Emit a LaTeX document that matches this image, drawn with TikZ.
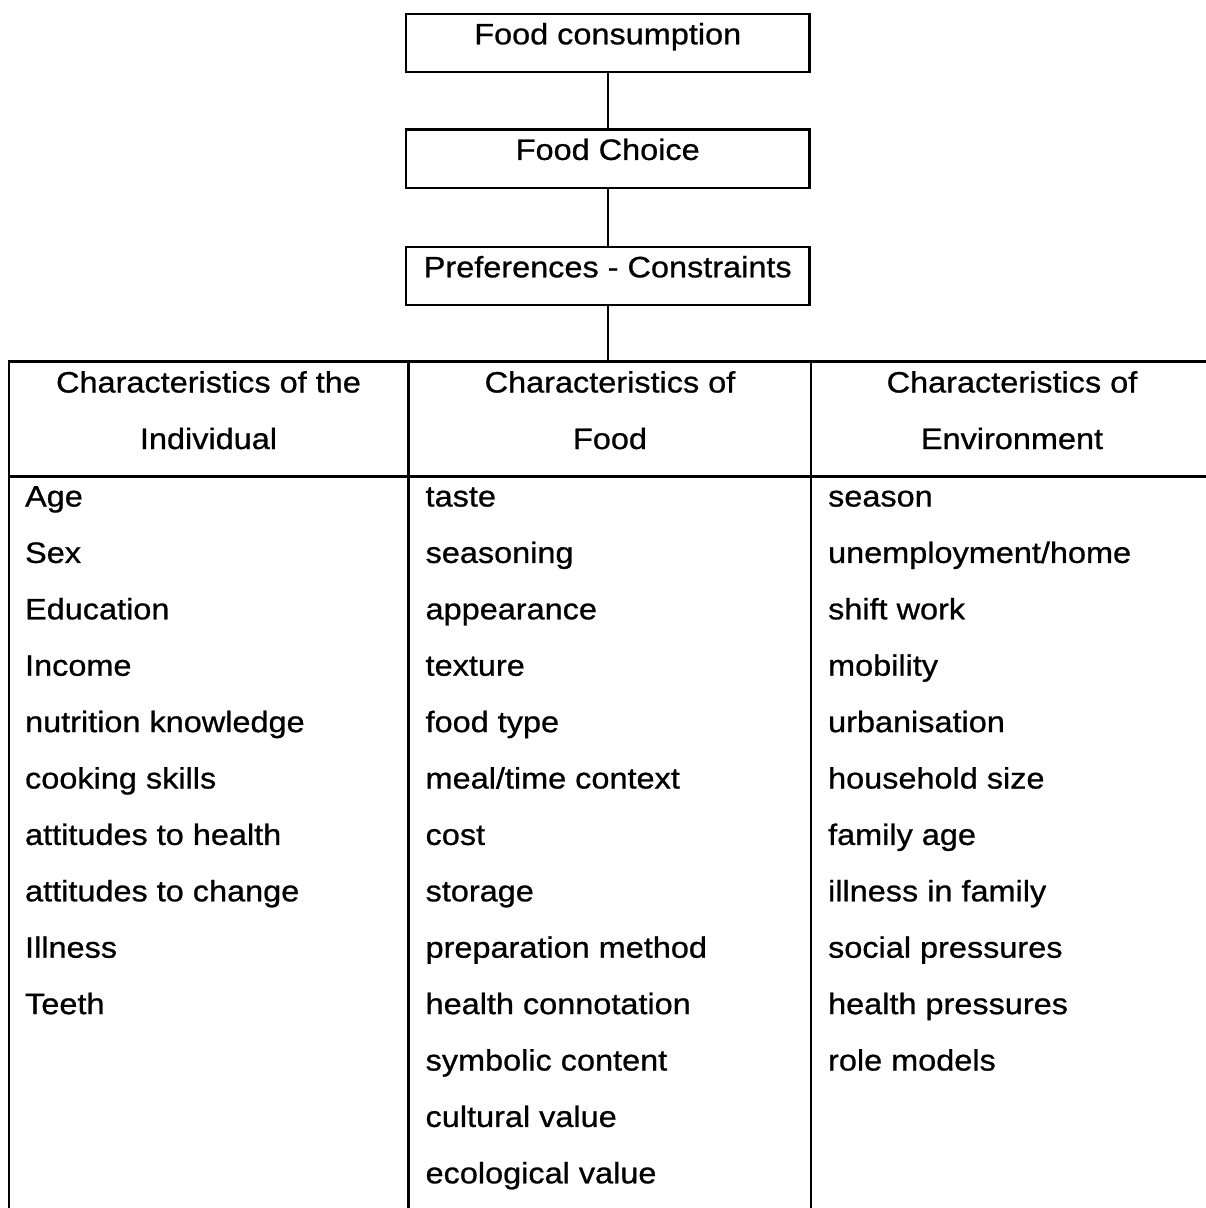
\documentclass[tikz,border=0pt]{standalone}
\usepackage{fontspec}
\setmainfont{Liberation Sans}[FakeStretch=1.1,FakeBold=0.8]
\begin{document}
\begin{tikzpicture}[x=1pt,y=-1pt,line width=2.2pt,
  txt/.style={font=\fontsize{29.5}{35}\selectfont, inner sep=0pt},
  topbox/.style={draw, txt, minimum width=403.5pt, text height=30.5pt, text depth=27.8pt},
  item/.style={txt, anchor=base west},
  head/.style={txt, anchor=base}]
\useasboundingbox (0,0) rectangle (1206,1208);
% top chain
\node[topbox, anchor=north] (b1) at (607.75,12.7) {Food consumption};
\node[topbox, anchor=north] (b2) at (607.75,128.3) {Food Choice};
\node[topbox, anchor=north] (b3) at (607.75,245.7) {Preferences - Constraints};
\coordinate (tt) at (607.75,361.5);
\draw (b1.south) -- (b2.north);
\draw (b2.south) -- (b3.north);
\draw (b3.south) -- (tt);
% table
\draw (9,1208) -- (9,361.5) -- (1206,361.5);
\draw (9,476.5) -- (1206,476.5);
\draw (408.5,361.5) -- (408.5,1208);
\draw (811,361.5) -- (811,1208);
% headers
\node[head] (h1a) at (208.5,392.5) {Characteristics of the};
\node[head] (h1b) at (208.5,449) {Individual};
\node[head] (h2a) at (610,392.5) {Characteristics of};
\node[head] (h2b) at (610,449) {Food};
\node[head] (h3a) at (1012,392.5) {Characteristics of};
\node[head] (h3b) at (1012,449) {Environment};
% items
\foreach \t [count=\i from 0] in {Age, Sex, Education, Income, nutrition knowledge, cooking skills, attitudes to health, attitudes to change, Illness, Teeth}
  \node[item] (a\i) at (24,{506.5+56.4*\i}) {\t};
\foreach \t [count=\i from 0] in {taste, seasoning, appearance, texture, food type, meal/time context, cost, storage, preparation method, health connotation, symbolic content, cultural value, ecological value}
  \node[item] (f\i) at (424.5,{506.5+56.4*\i}) {\t};
\foreach \t [count=\i from 0] in {season, unemployment/home, shift work, mobility, urbanisation, household size, family age, illness in family, social pressures, health pressures, role models}
  \node[item] (e\i) at (827,{506.5+56.4*\i}) {\t};
\end{tikzpicture}
\end{document}
